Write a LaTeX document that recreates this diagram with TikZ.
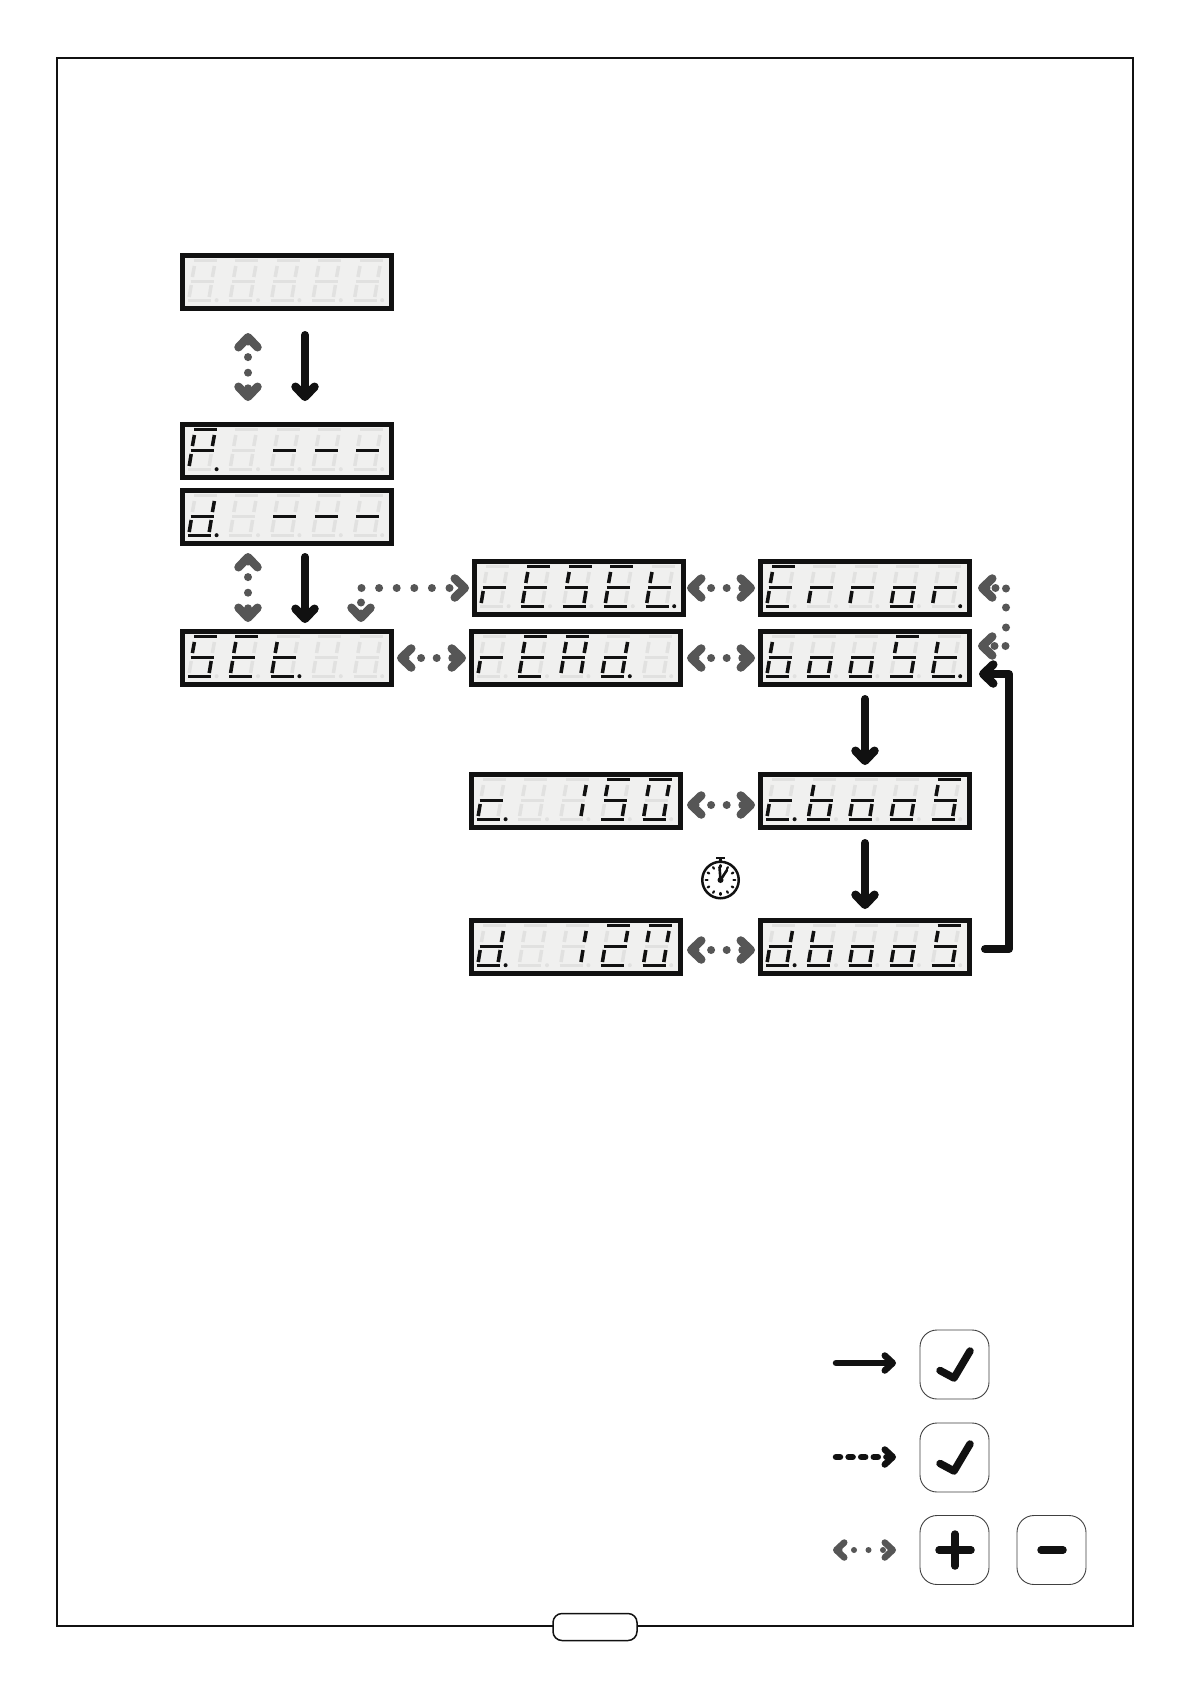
\documentclass[tikz,border=0pt]{standalone}
\usetikzlibrary{arrows.meta,calc}
\definecolor{segoff}{HTML}{E1E1E0}
\definecolor{panelbg}{HTML}{F0F0EF}
\definecolor{ink}{HTML}{111111}
\definecolor{gry}{HTML}{565656}
\tikzset{
 x=1pt,y=-1pt,
 panel/.style={draw=ink,fill=panelbg,line width=5pt,rectangle,minimum width=209pt,minimum height=53pt,inner sep=0pt,outer sep=2.5pt},
 hseg/.style={line width=2.8pt},
 vseg/.style={line width=3.5pt},
 barb/.tip={Straight Barb[length=10pt 0 0,width=19pt 0 0,line width=8.5pt 0 0,round,line join=round]},
 smallbarb/.tip={Straight Barb[length=8pt 0 0,width=15pt 0 0,line width=6.5pt 0 0,round]},
 solidflow/.style={draw=ink,line width=8pt,line cap=round,line join=round,-{barb}},
 dotflow/.style={draw=gry,line width=8pt,line cap=round,dash pattern=on 0pt off 15.6pt,{barb}-{barb}},
 legendbtn/.style={draw=black!75,line width=.9pt,rounded corners=17pt,minimum width=69pt,minimum height=69pt,inner sep=0pt,fill=white},
 glyph/.style={draw=ink,line width=7.5pt,line cap=round,line join=round},
}
\newcommand{\segA}[2]{\draw[hseg,#2] (#1+14,7.6) -- (#1+37,7.6);}
\newcommand{\segG}[2]{\draw[hseg,#2] (#1+10.6,28.3) -- (#1+33.6,28.3);}
\newcommand{\segD}[2]{\draw[hseg,#2] (#1+8,47.4) -- (#1+31,47.4);}
\newcommand{\segF}[2]{\draw[vseg,#2] (#1+14.4,13) -- (#1+12.4,24);}
\newcommand{\segB}[2]{\draw[vseg,#2] (#1+34.4,13) -- (#1+32.4,24);}
\newcommand{\segE}[2]{\draw[vseg,#2] (#1+11.2,32) -- (#1+9.2,44);}
\newcommand{\segC}[2]{\draw[vseg,#2] (#1+31.2,32) -- (#1+29.2,44);}
\newcommand{\segP}[2]{\fill[#2] (#1+36.6,47.2) circle (2);}
\makeatletter
\newcommand{\digit}[2]{%
 \pgfmathsetmacro{\dx}{#1*41.4}%
 \foreach \s in {A,B,C,D,E,F,G,P}{\csname seg\s\endcsname{\dx}{segoff}}%
 \@for\s:=#2\do{\csname seg\s\endcsname{\dx}{ink}}%
}
\makeatother
\newcommand{\panelbox}[8]{%
 \node[panel,anchor=north west] (#1) at (#2,#3) {};
 \begin{scope}[shift={(#2,#3)}]
 \digit{0}{#4}\digit{1}{#5}\digit{2}{#6}\digit{3}{#7}\digit{4}{#8}
 \end{scope}
}
\def\dE{A,F,G,E,D}
\def\dS{A,F,G,C,D}
\def\dT{F,G,E,D}
\def\dR{G,E}
\def\dO{G,E,C,D}
\def\dB{F,G,E,C,D}
\def\dDn{B,G,E,C,D}
\def\dA{A,B,F,G,E,C}
\def\dOne{B,C}
\def\dTwo{A,B,G,E,D}
\def\dZero{A,B,C,D,E,F}
\def\dDash{G}
\begin{document}
\begin{tikzpicture}
\useasboundingbox (0,0) rectangle (1190,1684);
\fill[white] (0,0) rectangle (1190,1684);
\node[draw=ink,line width=1.5pt,fill=none,minimum width=1076pt,minimum height=1568pt,inner sep=0pt,anchor=north west,outer sep=0pt] (frame) at (57,58) {};
\node[draw=ink,line width=1.5pt,fill=white,rounded corners=9pt,minimum width=84pt,minimum height=27pt,inner sep=0pt] (pill) at (595,1627) {};
\panelbox{top}{180}{253}{}{}{}{}{}
\panelbox{pp}{180}{422}{A,B,F,G,E,P}{}{\dDash}{\dDash}{\dDash}
\panelbox{dd}{180}{488}{\dDn,P}{}{\dDash}{\dDash}{\dDash}
\panelbox{set}{180}{629}{\dS}{\dE}{\dT,P}{}{}
\panelbox{reset}{472}{559}{\dR}{\dE}{\dS}{\dE}{\dT,P}
\panelbox{read}{469}{629}{\dR}{\dE}{\dA}{\dDn,P}{}
\panelbox{error}{758}{559}{\dE}{\dR}{\dR}{\dO}{\dR,P}
\panelbox{boost}{758}{629}{\dB}{\dO}{\dO}{\dS}{\dT,P}
\panelbox{rtime}{469}{772}{G,E,D,P}{}{\dOne}{\dS}{\dZero}
\panelbox{rboos}{758}{772}{G,E,D,P}{\dB}{\dO}{\dO}{\dS}
\panelbox{dtime}{469}{918}{\dDn,P}{}{\dOne}{\dTwo}{\dZero}
\panelbox{dboos}{758}{918}{\dDn,P}{\dB}{\dO}{\dO}{\dS}
\coordinate (a1) at (305,335);
\coordinate (a2) at (305,401);
\coordinate (b1) at (248,333);
\coordinate (b2) at (248,401);
\coordinate (c1) at (305,557);
\coordinate (c2) at (305,623);
\coordinate (d1) at (248,553);
\coordinate (d2) at (248,622);
\coordinate (e1) at (361,622);
\coordinate (e2) at (361,588);
\coordinate (e3) at (469,588);
\coordinate (f1) at (865,699);
\coordinate (f2) at (865,765);
\coordinate (g1) at (865,843);
\coordinate (g2) at (865,909);
\coordinate (h1) at (985,949);
\coordinate (h2) at (1009,949);
\coordinate (h3) at (1009,674);
\coordinate (h4) at (979,674);
\coordinate (i1) at (978,588);
\coordinate (i2) at (1006,588);
\coordinate (i3) at (1006,646);
\coordinate (i4) at (978,646);
\draw[solidflow] (a1) -- (a2);
\draw[solidflow] (c1) -- (c2);
\draw[solidflow] (f1) -- (f2);
\draw[solidflow] (g1) -- (g2);
\draw[solidflow] (h1) -- (h2) -- (h3) -- (h4);
\draw[dotflow] (b1) -- (b2);
\draw[dotflow] (d1) -- (d2);
\draw[dotflow,dash pattern=on 0pt off 11pt on 0pt off 15pt on 0pt off 17.6pt on 0pt off 17.6pt on 0pt off 17.6pt on 0pt off 17.6pt on 0pt off 17.6pt on 0pt off 40pt] (e1) -- (e2) -- (e3);
\draw[dotflow] ([xshift=3pt]set.east) -- ([xshift=-3pt]read.west);
\draw[dotflow] ([xshift=1pt]reset.east) -- ([xshift=-3pt]error.west);
\draw[dotflow] ([xshift=4pt]read.east) -- ([xshift=-3pt]boost.west);
\draw[dotflow] ([xshift=4pt,yshift=-4pt]rtime.east) -- ([xshift=-3pt,yshift=-4pt]rboos.west);
\draw[dotflow] ([xshift=4pt,yshift=-3pt]dtime.east) -- ([xshift=-3pt,yshift=-3pt]dboos.west);
\draw[dotflow,dash pattern=on 0pt off 9pt on 0pt off 11pt on 0pt off 19pt on 0pt off 20pt on 0pt off 19pt on 0pt off 11pt on 0pt off 40pt] (i1) -- (i2) -- (i3) -- (i4);
\node[circle,draw=ink,line width=2.5pt,minimum size=36.5pt,inner sep=0pt] (watch) at (720.5,880) {};
\draw[ink,line width=2.2pt] (720.5,862) -- (720.5,859);
\draw[ink,line width=2.6pt] (716,858) -- (725,858);
\foreach \a in {0,30,...,330}{\draw[ink,line width=2.2pt,line cap=round] (720.5,880) ++(\a:13) -- ++(\a:1.8);}
\draw[ink,line width=2.6pt,line cap=round] (720.5,880) -- (719.5,867);
\draw[ink,line width=2.6pt,line cap=round] (720.5,880) -- (727,870);
\fill[ink] (720.5,880) circle (3);
\node[legendbtn] (ok1) at (954.5,1364.5) {};
\node[legendbtn] (ok2) at (954.5,1457.5) {};
\node[legendbtn] (plus) at (954.5,1550) {};
\node[legendbtn] (minus) at (1051.5,1550) {};
\draw[glyph] (940,1370.5) -- (954,1378) -- (970,1351);
\draw[glyph] (940,1463.5) -- (954,1471) -- (970,1444);
\draw[glyph] (939,1550) -- (971,1550);
\draw[glyph] (955,1534) -- (955,1566);
\draw[glyph] (1041,1550) -- (1063,1550);
\coordinate (l1a) at (836,1363);
\coordinate (l1b) at (896,1363);
\coordinate (l2a) at (836,1457);
\coordinate (l2b) at (896,1457);
\coordinate (l3a) at (833,1550);
\coordinate (l3b) at (896,1550);
\draw[draw=ink,line width=6.5pt,line cap=round,-{smallbarb}] (l1a) -- (l1b);
\draw[draw=ink,line width=6.5pt,line cap=round,dash pattern=on 4pt off 8.6pt,-{smallbarb}] (l2a) -- (l2b);
\draw[draw=gry,line width=6pt,line cap=round,dash pattern=on 0pt off 14.5pt,{smallbarb}-{smallbarb}] (l3a) -- (l3b);
\end{tikzpicture}
\end{document}
